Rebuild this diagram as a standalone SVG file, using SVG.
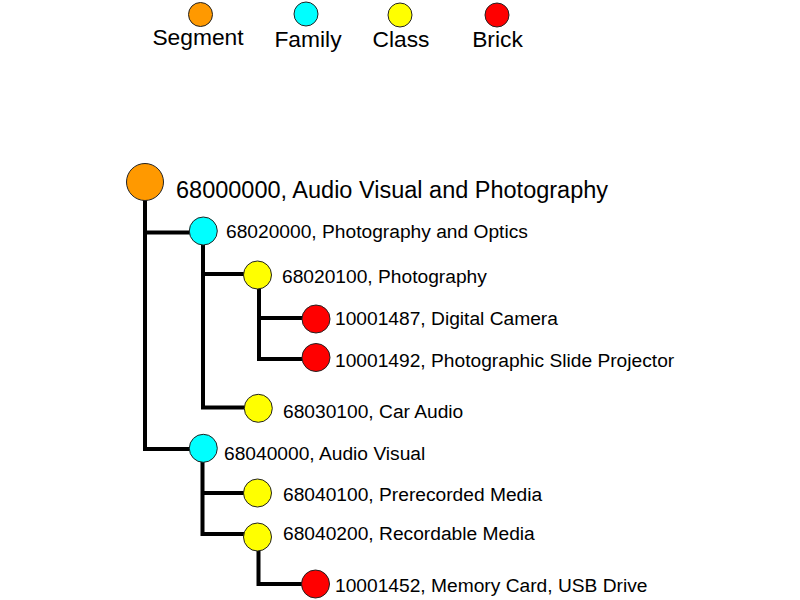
<svg xmlns="http://www.w3.org/2000/svg" width="800" height="600" viewBox="0 0 800 600">
<style>
text{font-family:"Liberation Sans",Arial,sans-serif;fill:#000}
.lg{font-size:22.8px;text-anchor:middle}
.nd{font-size:19.2px}
.rt{font-size:23.5px}
circle{stroke:#222;stroke-width:1}
.seg{fill:#FF9900}.fam{fill:#00FFFF}.cls{fill:#FFFF00}.brk{fill:#FF0000}
#connectors path{fill:none;stroke:#000;stroke-width:4}
</style>
<rect width="800" height="600" fill="#fff"/>
<g id="legend">
<circle class="seg" cx="200.5" cy="14.5" r="12"/><text class="lg" x="198" y="45">Segment</text>
<circle class="fam" cx="306" cy="14" r="12"/><text class="lg" x="308" y="46.5">Family</text>
<circle class="cls" cx="400" cy="15" r="12"/><text class="lg" x="401" y="46.5">Class</text>
<circle class="brk" cx="497" cy="15" r="12"/><text class="lg" x="497.5" y="46.5">Brick</text>
</g>
<g id="connectors">
<path d="M145,200 V449 H190"/>
<path d="M145,232.5 H190"/>
<path d="M203,245 V407.5 H245"/>
<path d="M203,274 H244"/>
<path d="M259,289 V359 H302"/>
<path d="M259,318 H302"/>
<path d="M202.5,462 V534 H244"/>
<path d="M202.5,493 H244"/>
<path d="M258.5,551 V584 H302"/>
</g>
<g id="n68000000"><circle class="seg" cx="145" cy="182" r="18.5"/><text class="rt" x="176" y="198">68000000, Audio Visual and Photography</text></g>
<g id="n68020000"><circle class="fam" cx="203.3" cy="231" r="14"/><text class="nd" x="226" y="238">68020000, Photography and Optics</text></g>
<g id="n68020100"><circle class="cls" cx="257.5" cy="275" r="14"/><text class="nd" x="282" y="283">68020100, Photography</text></g>
<g id="n10001487"><circle class="brk" cx="316" cy="319" r="14"/><text class="nd" x="335" y="325">10001487, Digital Camera</text></g>
<g id="n10001492"><circle class="brk" cx="316" cy="357.5" r="14"/><text class="nd" x="335" y="367">10001492, Photographic Slide Projector</text></g>
<g id="n68030100"><circle class="cls" cx="258.3" cy="408.3" r="14"/><text class="nd" x="283" y="418">68030100, Car Audio</text></g>
<g id="n68040000"><circle class="fam" cx="203.3" cy="448.3" r="14"/><text class="nd" x="224" y="460">68040000, Audio Visual</text></g>
<g id="n68040100"><circle class="cls" cx="257.5" cy="493" r="14"/><text class="nd" x="283" y="501">68040100, Prerecorded Media</text></g>
<g id="n68040200"><circle class="cls" cx="257.5" cy="537" r="14"/><text class="nd" x="283" y="540">68040200, Recordable Media</text></g>
<g id="n10001452"><circle class="brk" cx="315.5" cy="584" r="14"/><text class="nd" x="335" y="592">10001452, Memory Card, USB Drive</text></g>
</svg>
